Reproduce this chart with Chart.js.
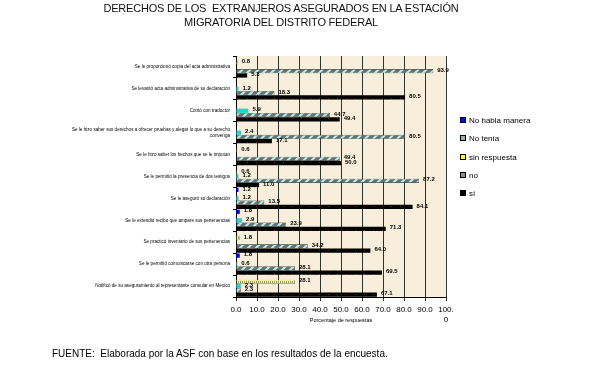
<!DOCTYPE html>
<html>
<head>
<meta charset="utf-8">
<script src="https://cdn.jsdelivr.net/npm/chart.js@4/dist/chart.umd.min.js"></script>
<style>
  html,body{margin:0;padding:0;background:#fff;}
  #wrap{position:relative;width:589px;height:377px;overflow:hidden;font-family:"Liberation Sans",Arial,sans-serif;}
  #c{position:absolute;left:0;top:0;}
  .title{position:absolute;left:0;width:562px;text-align:center;font-size:11px;color:#111;letter-spacing:-0.2px;}
  .leg{position:absolute;left:460px;font-size:8px;color:#000;height:10px;line-height:10px;}
  .leg span.sw{display:inline-block;width:4px;height:4px;border:1px solid #000;margin-right:3px;vertical-align:0px;}
  #foot{position:absolute;left:52px;top:348px;font-size:10px;color:#000;white-space:pre;}
</style>
</head>
<body>
<div id="wrap">
  <canvas id="c" width="589" height="377"></canvas>
  <div class="title" style="top:2px">DERECHOS DE LOS&nbsp; EXTRANJEROS ASEGURADOS EN LA ESTACIÓN</div>
  <div class="title" style="top:16px">MIGRATORIA DEL DISTRITO FEDERAL</div>
  <div id="legend"></div>
  <div id="foot">FUENTE:  Elaborada por la ASF con base en los resultados de la encuesta.</div>
</div>
<script>
// ---- DATA ----
const categories = [
  "Se le proporcionó copia del acta administrativa",
  "Se levantó acta administrativa de su declaración",
  "Contó con traductor",
  ["Se le hizo saber sus derechos a ofrecer pruebas y alegar lo que a su derecho", "convenga"],
  "Se le hizo saber los hechos que se le imputan",
  "Se le permitió la presencia de dos testigos",
  "Se le aseguró su declaración",
  "Se le extendió recibo que ampare sus pertenencias",
  "Se practicó inventario de sus pertenencias",
  "Se le permitió comunicarse con otra persona",
  "Notificó de su aseguramiento al representante consular en México"
];
const seriesNames = ["No habla manera", "No tenía", "sin respuesta", "no", "sí"];
const noHabla    = [null, null, null, null, null, null, 1.2, 1.8, null, 1.8, null];
const noTenia    = [null, 1.2, 5.9, 2.4, null, 1.2, 1.2, 2.9, null, 0.6, 2.3];
const sinResp    = [0.8, null, null, null, 0.6, 0.6, null, null, 1.8, null, 28.1];
const noVals     = [93.9, 18.3, 44.7, 80.5, 49.4, 87.2, 13.5, 23.9, 34.2, 28.1, 2.3];
const siVals     = [5.3, 80.5, 49.4, 17.1, 50.0, 11.0, 84.1, 71.3, 64.0, 69.5, 67.1];
const xTickLabels = ["0.0","10.0","20.0","30.0","40.0","50.0","60.0","70.0","80.0","90.0","100.0"];
const axisTitle = "Porcentaje de respuestas";

// ---- patterns ----
function makePattern(w, h, draw) {
  const c = document.createElement('canvas'); c.width = w; c.height = h;
  const x = c.getContext('2d'); draw(x, w, h);
  return x.createPattern(c, 'repeat');
}
const hatch = makePattern(8, 8, (x) => {
  x.fillStyle = '#6e6e6e'; x.fillRect(0, 0, 8, 8);
  x.strokeStyle = '#a8f4f4'; x.lineWidth = 2.2;
  x.beginPath(); x.moveTo(-2, 10); x.lineTo(10, -2); x.moveTo(-2, 2); x.lineTo(2, -2); x.moveTo(6, 10); x.lineTo(10, 6); x.stroke();
});
const blackDots = makePattern(9, 4, (x) => {
  x.fillStyle = '#000'; x.fillRect(0, 0, 9, 4);
  x.fillStyle = '#8a1030'; x.fillRect(4, 2, 1, 1);
});
const yellowDots = makePattern(4, 4, (x) => {
  x.fillStyle = '#ffff80'; x.fillRect(0, 0, 4, 4);
  x.fillStyle = '#9a9a60'; x.fillRect(0, 1, 1, 2); x.fillRect(2, 1, 1, 2);
});

const colors = ['#0000ff', '#33cccc', yellowDots, hatch, blackDots];
const legendSw = ['#0000ff', '#9ab0b0', '#ffff00', '#909090', '#000000'];
const valueLists = [noHabla, noTenia, sinResp, noVals, siVals];
// drawing order inside each group (top to bottom): blue, yellow, teal, hatched, black
const drawOrder = [0, 2, 1, 3, 4];

// legend
const lg = document.getElementById('legend');
const legY = [116, 134, 153, 171, 189];
seriesNames.forEach((n, i) => {
  const d = document.createElement('div');
  d.className = 'leg'; d.style.top = legY[i] + 'px';
  d.innerHTML = '<span class="sw" style="background:' + legendSw[i] + '"></span>' + n;
  lg.appendChild(d);
});

const bgPlugin = {
  id: 'bg',
  beforeDraw(chart) {
    const { ctx, chartArea: a } = chart;
    ctx.save(); ctx.fillStyle = '#f7efdb';
    ctx.fillRect(a.left, a.top, a.right - a.left, a.bottom - a.top);
    ctx.restore();
  }
};
const valuePlugin = {
  id: 'vals',
  afterDatasetsDraw(chart) {
    const ctx = chart.ctx;
    ctx.save();
    ctx.font = 'bold 6px "Liberation Sans", Arial';
    ctx.fillStyle = '#000'; ctx.textBaseline = 'middle'; ctx.textAlign = 'left';
    chart.data.datasets.forEach((ds, i) => {
      chart.getDatasetMeta(i).data.forEach((el, j) => {
        const v = ds.data[j];
        if (v == null) return;
        ctx.fillText(v.toFixed(1), el.x + 4, el.y - 1);
      });
    });
    ctx.restore();
  }
};

new Chart(document.getElementById('c'), {
  type: 'bar',
  data: {
    labels: categories,
    datasets: drawOrder.map((i) => ({
      label: seriesNames[i],
      data: valueLists[i],
      backgroundColor: colors[i],
      borderColor: i === 3 ? '#222' : (i === 2 ? '#777' : 'rgba(0,0,0,0)'),
      borderWidth: (i === 3 || i === 2) ? 0.6 : 0,
      categoryPercentage: 0.97,
      barPercentage: 1.0
    }))
  },
  options: {
    indexAxis: 'y',
    responsive: false,
    animation: false,
    layout: { padding: { top: 56, right: 143, bottom: 53, left: 0 } },
    plugins: { legend: { display: false }, tooltip: { enabled: false } },
    scales: {
      x: {
        min: 0, max: 100,
        ticks: {
          stepSize: 10, autoSkip: false, maxRotation: 0, minRotation: 0,
          color: '#000', padding: 4,
          font: { family: '"Liberation Sans", Arial', size: 8 },
          callback: (v, i) => {
            const t = xTickLabels[i];
            return t && t.length > 4 ? [t.slice(0, 4), t.slice(4)] : t;
          }
        },
        grid: { color: '#000', lineWidth: 0.8, tickLength: 4, drawTicks: true },
        border: { color: '#000', width: 1 },
        title: { display: true, text: axisTitle, color: '#000', padding: 0,
                 font: { family: '"Liberation Sans", Arial', size: 5.5 } },
        afterFit(s) { s.height = 27; }
      },
      y: {
        ticks: { autoSkip: false, color: '#000', padding: 3,
                 font: { family: '"Liberation Sans", Arial', size: 4.6 } },
        grid: { drawOnChartArea: false, tickLength: 3, color: '#000', offset: true },
        border: { color: '#000', width: 1 },
        afterFit(s) { s.width = 236; }
      }
    }
  },
  plugins: [bgPlugin, valuePlugin]
});
</script>
</body>
</html>
